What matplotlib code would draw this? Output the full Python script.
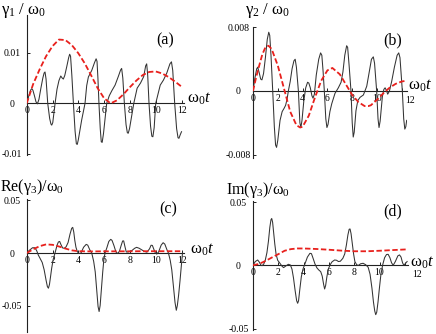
import matplotlib
matplotlib.use("Agg")
import matplotlib.pyplot as plt
from matplotlib.transforms import ScaledTranslation

plt.rcParams['font.family'] = 'Liberation Serif'
plt.rcParams['mathtext.fontset'] = 'custom'
plt.rcParams['mathtext.rm'] = 'Liberation Serif'
plt.rcParams['mathtext.it'] = 'Liberation Serif:italic'

# ---- data ----
# (a) gamma_1 / omega_0
ta_blk = [0, 0.1, 0.2, 0.3, 0.39, 0.48, 0.6, 0.72, 0.83, 0.95, 1.1, 1.25, 1.35, 1.42, 1.5, 1.63,
          1.78, 1.88, 1.94, 2.02, 2.2, 2.35, 2.5, 2.64, 2.75, 2.84, 2.95, 3.1, 3.25, 3.33, 3.4,
          3.5, 3.62, 3.75, 3.85, 3.92, 4.0, 4.26, 4.52, 4.65, 4.78, 5.04, 5.25, 5.38, 5.45, 5.52,
          5.6, 5.7, 5.78, 5.85, 5.95, 6.2, 6.4, 6.6, 6.85, 7.1, 7.28, 7.36, 7.45, 7.57, 7.7, 7.8,
          7.87, 7.97, 8.3, 8.56, 8.82, 9.07, 9.22, 9.3, 9.38, 9.48, 9.6, 9.7, 9.78, 9.88, 10.0,
          10.35, 10.6, 10.86, 11.1, 11.22, 11.32, 11.47, 11.62, 11.73, 11.8, 11.9, 12.0]
g1_blk = [0, 0.0009, 0.0018, 0.0026, 0.0029, 0.0026, 0.0015, 0.0003, -0.0001, 0.0008, 0.0030,
          0.0050, 0.0060, 0.0062, 0.0048, 0.0, -0.0030, -0.0041, -0.0043, -0.0038, 0.0, 0.0028,
          0.0045, 0.0054, 0.0050, 0.0048, 0.0055, 0.0072, 0.0090, 0.0097, 0.0093, 0.0055, 0.0,
          -0.0055, -0.0080, -0.0081, -0.0072, -0.0033, 0.0, 0.0035, 0.0052, 0.0065, 0.0080,
          0.0088, 0.0083, 0.0050, 0.0, -0.0050, -0.0076, -0.0077, -0.0060, 0.0, 0.0015, 0.0025,
          0.0036, 0.0053, 0.0066, 0.0069, 0.0050, 0.0, -0.0042, -0.0058, -0.0059, -0.0050, 0.0,
          0.0030, 0.0040, 0.0053, 0.0074, 0.0078, 0.0055, 0.0, -0.0045, -0.0065, -0.0066,
          -0.0048, 0.0, 0.0036, 0.0046, 0.0060, 0.0078, 0.0082, 0.0065, 0.0, -0.0050, -0.0068,
          -0.0069, -0.0062, -0.0056]
ta_red = [0, 0.5, 1.0, 1.5, 2.0, 2.5, 3.0, 3.5, 4.0, 4.5, 5.0, 5.5, 6.0, 6.5, 7.0, 7.5, 8.0,
          8.5, 9.0, 9.5, 10.0, 10.5, 11.0, 11.5, 12.0]
g1_red = [0, 0.0038, 0.0067, 0.0093, 0.0113, 0.0126, 0.0125, 0.0115, 0.0099, 0.0079, 0.0055,
          0.003, 0.001, 0.0, 0.0006, 0.0018, 0.0032, 0.0045, 0.0056, 0.0062, 0.0063, 0.0059,
          0.0052, 0.0043, 0.0033]

# (b) gamma_2 / omega_0
tb_blk = [0, 0.15, 0.3, 0.38, 0.5, 0.62, 0.72, 0.85, 1.0, 1.15, 1.27, 1.35, 1.45, 1.59, 1.72,
          1.82, 1.9, 2.0, 2.18, 2.35, 2.5, 2.63, 2.75, 2.85, 3.0, 3.15, 3.3, 3.4, 3.5, 3.66, 3.78,
          3.86, 3.95, 4.1, 4.25, 4.4, 4.5, 4.62, 4.75, 4.84, 4.95, 5.1, 5.3, 5.45, 5.55, 5.65,
          5.75, 5.87, 5.96, 6.05, 6.2, 6.35, 6.61, 6.88, 7.1, 7.25, 7.4, 7.55, 7.63, 7.75, 7.9,
          8.0, 8.08, 8.16, 8.3, 8.45, 8.63, 8.9, 9.17, 9.35, 9.55, 9.7, 9.8, 9.97, 10.08, 10.16,
          10.25, 10.43, 10.55, 10.65, 10.75, 10.86, 11.0, 11.18, 11.4, 11.62, 11.75, 11.85,
          11.95, 12.04, 12.15, 12.24, 12.32, 12.39]
g2_blk = [0, 0.0016, 0.0028, 0.0030, 0.0023, 0.0015, 0.0014, 0.0022, 0.0042, 0.0065, 0.0074,
          0.0070, 0.0045, 0.0, -0.0045, -0.0068, -0.0071, -0.0062, -0.0037, -0.0026, -0.0022,
          -0.0018, -0.0010, 0.0, 0.0012, 0.0028, 0.0038, 0.0040, 0.0030, 0.0, -0.0040, -0.0046,
          -0.0037, -0.0012, 0.0004, 0.0011, 0.0010, 0.0004, -0.0006, -0.0009, -0.0004, 0.0020,
          0.0040, 0.0048, 0.0045, 0.0025, 0.0, -0.0035, -0.0046, -0.0042, -0.0026, -0.0016,
          -0.0003, 0.0004, 0.0011, 0.0024, 0.0045, 0.0057, 0.0055, 0.0032, 0.0, -0.0040, -0.0058,
          -0.0052, -0.0025, -0.0012, -0.0008, -0.0005, 0.0006, 0.0022, 0.0040, 0.0043, 0.0035,
          0.0, -0.0035, -0.0046, -0.0038, -0.0007, 0.0002, 0.0004, 0.0001, -0.0004, 0.0, 0.0012,
          0.0030, 0.0045, 0.0048, 0.0042, 0.0020, 0.0, -0.0035, -0.0048, -0.0045, -0.0037]
tb_red = [0, 0.25, 0.5, 0.75, 1.0, 1.25, 1.5, 2.0, 2.5, 3.0, 3.5, 3.8, 4.0, 4.5, 5.0, 5.5, 6.0,
          6.4, 7.0, 7.5, 8.0, 8.5, 9.0, 9.3, 9.5, 10.0, 10.5, 11.0, 11.5, 12.0, 12.4]
g2_red = [0, 0.0017, 0.0032, 0.0046, 0.0055, 0.0057, 0.0053, 0.0032, 0.0003, -0.0026, -0.0043,
          -0.0046, -0.0045, -0.0031, -0.0008, 0.0013, 0.0026, 0.0029, 0.0021, 0.0008, -0.0005,
          -0.0014, -0.0019, -0.0019, -0.0018, -0.0011, -0.0003, 0.0004, 0.0009, 0.0012, 0.0013]

# (c) Re(gamma_3) / omega_0
tc_blk = [0, 0.2, 0.45, 0.64, 0.78, 0.9, 1.03, 1.2, 1.35, 1.5, 1.6, 1.68, 1.76, 1.85, 1.93,
          2.05, 2.19, 2.35, 2.45, 2.55, 2.65, 2.78, 2.92, 3.05, 3.2, 3.35, 3.48, 3.56, 3.64, 3.72,
          3.81, 3.92, 4.05, 4.2, 4.4, 4.6, 4.72, 4.88, 5.03, 5.18, 5.3, 5.42, 5.52, 5.6, 5.68,
          5.78, 5.88, 5.97, 6.06, 6.2, 6.35, 6.5, 6.6, 6.75, 6.9, 7.05, 7.18, 7.3, 7.42, 7.5, 7.6,
          7.7, 7.85, 8.1, 8.35, 8.5, 8.7, 8.9, 9.1, 9.3, 9.5, 9.62, 9.72, 9.85, 9.95, 10.06, 10.2,
          10.4, 10.55, 10.68, 10.85, 10.96, 11.1, 11.22, 11.35, 11.47, 11.57, 11.65, 11.75,
          11.86, 11.96, 12.05]
re3_blk = [0, 0.0025, 0.005, 0.005, 0.002, -0.002, -0.005, -0.009, -0.016, -0.026, -0.032,
           -0.0335, -0.030, -0.022, -0.0146, -0.006, 0.0, 0.0075, 0.0105, 0.011, 0.008, 0.0048,
           0.0045, 0.006, 0.010, 0.018, 0.0235, 0.0244, 0.020, 0.012, 0.0054, 0.0012, -0.0005,
           0.0, 0.0055, 0.0082, 0.0075, 0.003, 0.0, -0.008, -0.018, -0.036, -0.051, -0.0557,
           -0.050, -0.034, -0.018, -0.006, 0.0, 0.005, 0.011, 0.013, 0.012, 0.007, 0.001, -0.0005,
           0.002, 0.007, 0.0115, 0.0115, 0.006, 0.001, 0.001, 0.002, 0.0045, 0.0054, 0.0045,
           0.003, 0.0015, 0.0008, 0.004, 0.0074, 0.0072, 0.003, 0.0, -0.001, 0.001, 0.0075,
           0.0098, 0.0085, 0.003, 0.0, -0.007, -0.016, -0.032, -0.047, -0.0545, -0.050, -0.040,
           -0.026, -0.012, 0.0]
tc_red = [0, 0.5, 1.0, 1.5, 2.0, 2.5, 3.0, 3.5, 4.0, 5.0, 6.0, 7.0, 8.0, 9.0, 10.0, 11.0, 12.0]
re3_red = [0, 0.0035, 0.0065, 0.0082, 0.0078, 0.0062, 0.0042, 0.0025, 0.0017, 0.0015, 0.0016,
           0.0016, 0.0016, 0.0017, 0.0017, 0.0017, 0.0017]

# (d) Im(gamma_3) / omega_0
td_blk = [0, 0.18, 0.37, 0.5, 0.62, 0.72, 0.85, 0.97, 1.1, 1.22, 1.33, 1.42, 1.48, 1.55, 1.63,
          1.72, 1.82, 1.95, 2.13, 2.3, 2.42, 2.6, 2.79, 2.95, 3.08, 3.2, 3.33, 3.45, 3.53, 3.6,
          3.7, 3.82, 3.95, 4.1, 4.3, 4.5, 4.62, 4.75, 4.9, 5.05, 5.2, 5.35, 5.47, 5.58, 5.66,
          5.74, 5.84, 5.95, 6.1, 6.25, 6.45, 6.6, 6.75, 6.9, 7.1, 7.25, 7.38, 7.5, 7.6, 7.67,
          7.75, 7.85, 7.95, 8.05, 8.2, 8.35, 8.5, 8.7, 8.9, 9.1, 9.25, 9.4, 9.52, 9.62, 9.7,
          9.78, 9.88, 9.98, 10.1, 10.24, 10.4, 10.55, 10.68, 10.82, 10.95, 11.08, 11.25, 11.45,
          11.58, 11.7, 11.82, 11.92, 12.05, 12.18]
im3_blk = [0, 0.003, 0.0042, 0.0025, 0.0002, -0.0003, 0.001, 0.004, 0.010, 0.019, 0.030, 0.036,
           0.037, 0.034, 0.026, 0.017, 0.009, 0.004, 0.0016, -0.0008, -0.0018, -0.0005, 0.0008,
           0.0003, -0.003, -0.010, -0.020, -0.028, -0.030, -0.028, -0.019, -0.009, -0.003, 0.001,
           0.0065, 0.0095, 0.0092, 0.0055, 0.001, -0.002, -0.0037, -0.005, -0.0085, -0.015,
           -0.0187, -0.016, -0.009, -0.003, 0.0005, 0.0028, 0.0042, 0.0040, 0.003, 0.0032, 0.0055,
           0.009, 0.016, 0.024, 0.0285, 0.0287, 0.025, 0.017, 0.009, 0.003, 0.0003, 0.0, 0.0012,
           0.0016, 0.0005, -0.0015, -0.007, -0.018, -0.029, -0.036, -0.039, -0.037, -0.029, -0.019,
           -0.008, 0.0, 0.006, 0.0085, 0.0087, 0.006, 0.002, 0.0, 0.003, 0.0075, 0.0082, 0.0065,
           0.002, 0.0, 0.0015, 0.003]
td_red = [0, 0.5, 1.0, 1.5, 2.0, 2.5, 3.0, 3.5, 4.0, 5.0, 6.0, 7.0, 8.0, 9.0, 10.0, 11.0, 12.0, 12.2]
im3_red = [0, 0.0012, 0.0035, 0.0062, 0.0088, 0.0115, 0.0128, 0.0133, 0.0133, 0.0129, 0.0123,
           0.0116, 0.0111, 0.0111, 0.0115, 0.012, 0.0125, 0.0126]

W, H = 436, 334
fig = plt.figure(figsize=(W / 100, H / 100), dpi=100)


def make_ax(left, right, top, bottom):
    return fig.add_axes([left / W, 1 - bottom / H, (right - left) / W, (bottom - top) / H])


def style(ax, xmax, ylim, yt, ylabs, last_dx=0):
    ax.set_xlim(0, xmax)
    ax.set_ylim(*ylim)
    ax.patch.set_alpha(0)
    for s in ('top', 'right'):
        ax.spines[s].set_visible(False)
    ax.spines['bottom'].set_position(('data', 0))
    for s in ('left', 'bottom'):
        ax.spines[s].set_linewidth(0.8)
        ax.spines[s].set_color('#222222')
    ax.set_xticks([0, 2, 4, 6, 8, 10, 12], ['0', '2', '4', '6', '8', '10', '12'])
    ax.set_yticks(yt, ylabs)
    ax.tick_params(axis='x', direction='in', length=2, width=0.6, pad=2, labelsize=7)
    ax.tick_params(axis='y', direction='in', length=2, width=0.6, pad=10.5, labelsize=7)
    for lab in ax.get_yticklabels():
        lab.set_horizontalalignment('center')
    if last_dx:
        lab = ax.get_xticklabels()[-1]
        lab.set_transform(lab.get_transform() + ScaledTranslation(last_dx / 100, -2 / 100, fig.dpi_scale_trans))


def curves(ax, tb, yb, tr, yr):
    ax.plot(tb, yb, color='#333333', lw=0.75, zorder=3)
    ax.plot(tr, yr, color='#e8201c', lw=1.3, dashes=(3, 1.4), zorder=4)


axa = make_ax(26.7, 184.1, 15, 155)
curves(axa, ta_blk, g1_blk, ta_red, g1_red)
style(axa, 12.2, (-0.0102, 0.01745), [-0.01, 0, 0.01], ['-0.01', '0', '0.01'])

axb = make_ax(253, 406.8, 27, 158)
curves(axb, tb_blk, g2_blk, tb_red, g2_red)
style(axb, 12.4, (-0.00844, 0.00806), [-0.008, 0, 0.008], ['-0.008', '0', '0.008'], last_dx=8)

axc = make_ax(26.7, 183.8, 198.7, 332)
curves(axc, tc_blk, re3_blk, tc_red, re3_red)
style(axc, 12.15, (-0.0752, 0.0517), [-0.05, 0, 0.05], ['-0.05', '0', '0.05'])

axd = make_ax(253, 408, 201, 330)
curves(axd, td_blk, im3_blk, td_red, im3_red)
style(axd, 12.25, (-0.0511, 0.0508), [-0.05, 0, 0.05], ['-0.05', '0', '0.05'], last_dx=12)


def ftext(x, y, s, size, ha='center'):
    fig.text(x / W, 1 - y / H, s, fontsize=size, ha=ha, va='center')


# axis titles
ftext(24, 11, 'γ$_1$ / ω$_0$', 12)
ftext(268, 11, 'γ$_2$ / ω$_0$', 12)
ftext(32, 187, 'Re(γ$_3$)/ω$_0$', 11.5)
ftext(258, 190, 'Im(γ$_3$)/ω$_0$', 11.5)

# x-axis labels
ftext(187, 99, 'ω$_0t$', 12, ha='left')
ftext(408, 86, 'ω$_0t$', 12, ha='left')
ftext(190, 250, 'ω$_0t$', 12, ha='left')
ftext(410, 263, 'ω$_0t$', 12, ha='left')

# panel letters
ftext(165, 40, '(a)', 11.5)
ftext(393, 40, '(b)', 11.5)
ftext(168, 209, '(c)', 11.5)
ftext(393, 211, '(d)', 11.5)

fig.savefig('out.png', dpi=100)
